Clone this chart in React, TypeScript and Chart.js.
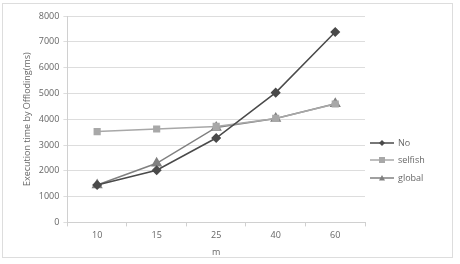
import React, { useEffect, useRef } from "react";
import { Chart, registerables } from "chart.js";

Chart.register(...registerables);

const categories = ["10", "15", "25", "40", "60"];
const noValues = [1450, 2020, 3270, 5030, 7380];
const selfishValues = [3520, 3620, 3720, 4030, 4590];
const globalValues = [1450, 2290, 3680, 4030, 4600];
const yTicks = [0, 1000, 2000, 3000, 4000, 5000, 6000, 7000, 8000];

const FONT = "'Open Sans', 'DejaVu Sans', sans-serif";

const framePlugin = {
  id: "frame",
  beforeDraw(chart: any) {
    const ctx = chart.ctx;
    ctx.save();
    ctx.fillStyle = "#ffffff";
    ctx.fillRect(0, 0, chart.width, chart.height);
    ctx.strokeStyle = "#dddddd";
    ctx.lineWidth = 1;
    ctx.strokeRect(2.5, 3.5, 450, 254);
    ctx.restore();
  },
};

const legendPlugin = {
  id: "customLegend",
  afterDraw(chart: any) {
    const ctx = chart.ctx;
    ctx.save();
    const x0 = 370;
    const ys = [143, 160, 178];
    chart.data.datasets.forEach((ds: any, i: number) => {
      const y = ys[i];
      ctx.strokeStyle = ds.borderColor;
      ctx.lineWidth = 1.5;
      ctx.beginPath();
      ctx.moveTo(x0, y);
      ctx.lineTo(x0 + 24, y);
      ctx.stroke();
      ctx.fillStyle = ds.backgroundColor;
      const cx = x0 + 12;
      const r = 3;
      ctx.beginPath();
      if (ds.pointStyle === "rectRot") {
        ctx.moveTo(cx, y - r);
        ctx.lineTo(cx + r, y);
        ctx.lineTo(cx, y + r);
        ctx.lineTo(cx - r, y);
      } else if (ds.pointStyle === "rect") {
        ctx.rect(cx - r, y - r, 2 * r, 2 * r);
      } else {
        ctx.moveTo(cx, y - r);
        ctx.lineTo(cx + r, y + r * 0.8);
        ctx.lineTo(cx - r, y + r * 0.8);
      }
      ctx.closePath();
      ctx.fill();
      ctx.fillStyle = "#666666";
      ctx.font = `9px ${FONT}`;
      ctx.textBaseline = "middle";
      ctx.textAlign = "left";
      ctx.fillText(ds.label, x0 + 28, y);
    });
    ctx.restore();
  },
};

export default function App() {
  const ref = useRef<HTMLCanvasElement | null>(null);
  useEffect(() => {
    document.body.style.margin = "0";
    const canvas = ref.current!;
    const chart = new Chart(canvas, {
      type: "line",
      data: {
        labels: categories,
        datasets: [
          {
            label: "No",
            data: noValues,
            borderColor: "#4a4a4a",
            backgroundColor: "#4a4a4a",
            pointStyle: "rectRot",
            pointRadius: 4,
            borderWidth: 1.5,
          },
          {
            label: "selfish",
            data: selfishValues,
            borderColor: "#a8a8a8",
            backgroundColor: "#a8a8a8",
            pointStyle: "rect",
            pointRadius: 4,
            borderWidth: 1.5,
          },
          {
            label: "global",
            data: globalValues,
            borderColor: "#808080",
            backgroundColor: "#808080",
            pointStyle: "triangle",
            pointRadius: 5,
            borderWidth: 1.5,
          },
        ],
      },
      options: {
        animation: false,
        responsive: false,
        layout: { padding: { left: 22, right: 95, top: 16, bottom: 6 } },
        plugins: { legend: { display: false }, tooltip: { enabled: false } },
        scales: {
          x: {
            offset: true,
            grid: {
              offset: true,
              drawOnChartArea: false,
              drawTicks: true,
              tickLength: 4,
              color: "#d0d0d0",
            },
            border: { color: "#d0d0d0" },
            ticks: { color: "#666666", font: { family: FONT, size: 9 }, padding: 4 },
            title: {
              display: true,
              text: "m",
              color: "#666666",
              font: { family: FONT, size: 9 },
              padding: { top: 2, bottom: 0 },
            },
          },
          y: {
            min: 0,
            max: 8000,
            afterBuildTicks(axis: any) {
              axis.ticks = yTicks.map((v) => ({ value: v }));
            },
            grid: { color: "#dddddd", drawTicks: true, tickLength: 4 },
            border: { color: "#d0d0d0" },
            ticks: {
              color: "#666666",
              font: { family: FONT, size: 9 },
              padding: 4,
              callback: (v: any) => String(v),
            },
            title: {
              display: true,
              text: "Execution time by Offloding(ms)",
              color: "#666666",
              font: { family: FONT, size: 9 },
              padding: { top: 0, bottom: 2 },
            },
          },
        },
      },
      plugins: [framePlugin, legendPlugin],
    });
    return () => chart.destroy();
  }, []);
  return <canvas ref={ref} width={460} height={264} style={{ display: "block" }} />;
}
